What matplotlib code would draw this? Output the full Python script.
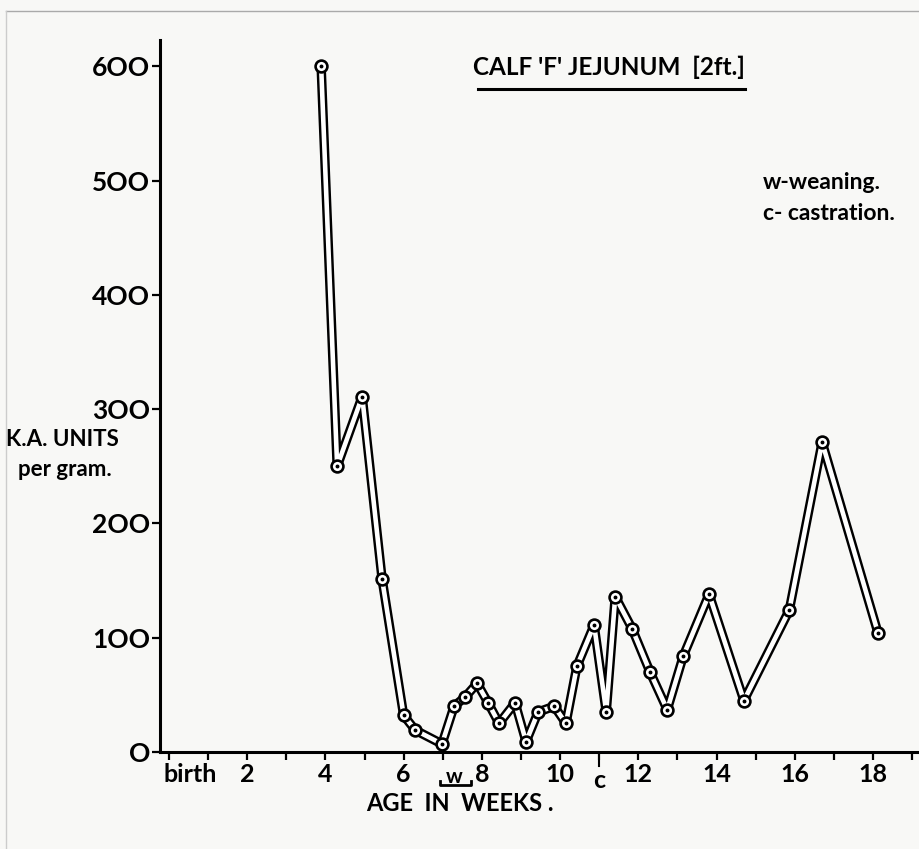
import matplotlib.pyplot as plt
import numpy as np

plt.rcParams['font.family'] = ['Lato', 'DejaVu Sans']
plt.rcParams['font.weight'] = 'bold'

# K.A. units per gram against age in weeks
weeks = [3.89, 4.30, 4.94, 5.45, 6.00, 6.30, 6.98, 7.29, 7.57, 7.88, 8.16, 8.44,
         8.85, 9.13, 9.44, 9.85, 10.15, 10.43, 10.87, 11.18, 11.41, 11.84, 12.30,
         12.74, 13.15, 13.81, 14.70, 15.86, 16.70, 18.13]
units = [600, 250, 311, 151, 32, 19, 7, 40, 48, 60, 43, 25,
         43, 9, 35, 40, 25, 75, 111, 35, 136, 108, 70,
         37, 84, 138, 45, 124, 271, 104]

y_ticks = [0, 100, 200, 300, 400, 500, 600]
x_label_pos = [0.55, 2, 4, 6, 8, 10, 12, 14, 16, 18]
x_label_txt = ['birth', '2', '4', '6', '8', '10', '12', '14', '16', '18']

bg = '#f8f8f6'
fig = plt.figure(figsize=(9.2, 8.49), dpi=100, facecolor=bg)
ax = fig.add_axes([0.1739, 0.1143, 0.826, 0.8386])
ax.set_facecolor(bg)

# hollow band line: thick black with a white core
ax.plot(weeks, units, color='black', lw=6.8, solid_joinstyle='round',
        solid_capstyle='round', zorder=2)
ax.plot(weeks, units, color='white', lw=3.3, solid_joinstyle='round',
        solid_capstyle='round', zorder=3)
ax.plot(weeks, units, 'o', ms=8.5, mfc='white', mec='black', mew=1.9, zorder=4)
ax.plot(weeks, units, 'o', ms=1.8, color='black', zorder=5)

ax.set_xlim(-0.23, 19.2)
ax.set_ylim(0, 623)

for s in ['top', 'right']:
    ax.spines[s].set_visible(False)
ax.spines['left'].set_linewidth(2.2)
ax.spines['bottom'].set_linewidth(2.2)

ax.set_yticks(y_ticks)
ax.set_yticklabels(['O', '1OO', '2OO', '3OO', '4OO', '5OO', '6OO'], fontsize=19)
ax.tick_params(axis='y', direction='out', length=6, width=1.6, pad=1)

ax.set_xticks(np.arange(0, 20))
ax.set_xticklabels([])
ax.tick_params(axis='x', direction='out', length=6, width=1.6)
for p, t in zip(x_label_pos, x_label_txt):
    ax.text(p, -10, t, fontsize=18, ha='center', va='top')

# weaning and castration marks under the axis
ax.text(7.3, -13, 'w', fontsize=15, ha='center', va='top')
ax.plot([6.92, 6.92, 7.72, 7.72], [-25, -29, -29, -25], color='black', lw=2,
        clip_on=False)
ax.text(11.0, -15, 'c', fontsize=18, ha='center', va='top')
ax.plot([11.0, 11.0], [-8, -12], color='black', lw=1.5, clip_on=False)

fig.text(0.5, 0.054, 'AGE  IN  WEEKS .', fontsize=17, ha='center', va='center')
fig.text(0.006, 0.482, 'K.A. UNITS', fontsize=16, ha='left', va='center')
fig.text(0.122, 0.447, 'per gram.', fontsize=16, ha='right', va='center')

fig.text(0.662, 0.921, "CALF 'F' JEJUNUM  [2ft.]", fontsize=17.5, ha='center',
         va='center')
fig.add_artist(plt.Line2D([0.52, 0.81], [0.895, 0.895], color='black', lw=2.2))

fig.text(0.829, 0.785, 'w-weaning.', fontsize=16.5, ha='left', va='center')
fig.text(0.829, 0.748, 'c- castration.', fontsize=16.5, ha='left', va='center')

# thin frame at top and left of the sheet
fig.add_artist(plt.Line2D([0.007, 1.0], [0.987, 0.987], color='#aaaaaa', lw=1))
fig.add_artist(plt.Line2D([0.007, 0.007], [0.0, 0.987], color='#cccccc', lw=1))

fig.savefig('out.png', dpi=100, facecolor=bg)
